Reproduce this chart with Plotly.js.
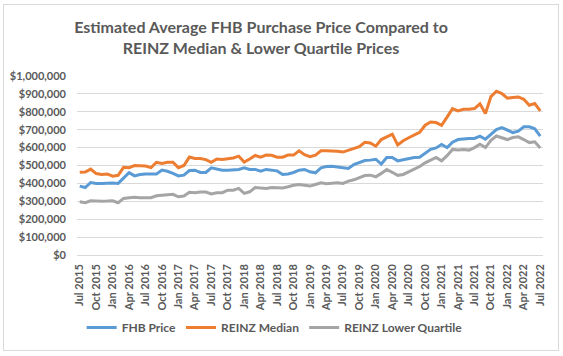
<!DOCTYPE html>
<html>
<head>
<meta charset="utf-8">
<script src="https://cdn.plot.ly/plotly-3.0.1.min.js"></script>
<style>
  html, body { margin: 0; padding: 0; background: #ffffff; }
  #chart { position: absolute; left: 0; top: 0; width: 563px; height: 356px; }
  #frame { position: absolute; left: 3px; top: 4px; width: 554px; height: 345px;
           border: 1px solid #d9d9d9; pointer-events: none; }
</style>
</head>
<body>
<div id="chart"></div>
<div id="frame"></div>
<script>
const months = [
  "Jul 2015","Aug 2015","Sep 2015","Oct 2015","Nov 2015","Dec 2015",
  "Jan 2016","Feb 2016","Mar 2016","Apr 2016","May 2016","Jun 2016","Jul 2016","Aug 2016","Sep 2016","Oct 2016","Nov 2016","Dec 2016",
  "Jan 2017","Feb 2017","Mar 2017","Apr 2017","May 2017","Jun 2017","Jul 2017","Aug 2017","Sep 2017","Oct 2017","Nov 2017","Dec 2017",
  "Jan 2018","Feb 2018","Mar 2018","Apr 2018","May 2018","Jun 2018","Jul 2018","Aug 2018","Sep 2018","Oct 2018","Nov 2018","Dec 2018",
  "Jan 2019","Feb 2019","Mar 2019","Apr 2019","May 2019","Jun 2019","Jul 2019","Aug 2019","Sep 2019","Oct 2019","Nov 2019","Dec 2019",
  "Jan 2020","Feb 2020","Mar 2020","Apr 2020","May 2020","Jun 2020","Jul 2020","Aug 2020","Sep 2020","Oct 2020","Nov 2020","Dec 2020",
  "Jan 2021","Feb 2021","Mar 2021","Apr 2021","May 2021","Jun 2021","Jul 2021","Aug 2021","Sep 2021","Oct 2021","Nov 2021","Dec 2021",
  "Jan 2022","Feb 2022","Mar 2022","Apr 2022","May 2022","Jun 2022","Jul 2022"
];

const tickLabels = [
  "Jul 2015","Oct 2015","Jan 2016","Apr 2016","Jul 2016","Oct 2016","Jan 2017","Apr 2017",
  "Jul 2017","Oct 2017","Jan 2018","Apr 2018","Jul 2018","Oct 2018","Jan 2019","Apr 2019",
  "Jul 2019","Oct 2019","Jan 2020","Apr 2020","Jul 2020","Oct 2020","Jan 2021","Apr 2021",
  "Jul 2021","Oct 2021","Jan 2022","Apr 2022","Jul 2022"
];

const fhbPrice = [
  385000,377000,405000,400000,400000,402000,402000,400000,430000,460000,
  442000,450000,452000,452000,452000,474000,468000,456000,442000,446000,
  472000,474000,461000,461000,487000,480000,474000,474000,478000,478000,
  487000,478000,478000,468000,478000,474000,470000,450000,453000,461000,
  474000,478000,465000,459000,487000,494000,496000,492000,488000,483000,
  505000,518000,528000,530000,535000,508000,545000,545000,526000,532000,
  538000,545000,546000,570000,590000,598000,617000,600000,630000,645000,
  650000,651000,651000,664000,647000,675000,701000,712000,700000,684000,
  692000,716000,716000,705000,664000
];

const reinzMedian = [
  462000,463000,480000,455000,450000,453000,440000,445000,490000,488000,
  500000,498000,497000,488000,518000,512000,518000,518000,488000,500000,
  547000,539000,539000,533000,518000,536000,533000,538000,542000,552000,
  519000,536000,556000,547000,558000,557000,546000,546000,558000,558000,
  582000,560000,549000,558000,582000,582000,582000,580000,575000,585000,
  595000,605000,630000,626000,608000,645000,660000,675000,615000,638000,
  655000,670000,685000,725000,743000,740000,725000,770000,818000,805000,
  814000,814000,818000,845000,790000,885000,915000,902000,876000,880000,
  883000,870000,837000,846000,805000
];

const reinzLowerQuartile = [
  297000,292000,303000,300000,300000,301000,303000,292000,316000,320000,
  323000,320000,320000,320000,331000,335000,337000,339000,325000,329000,
  350000,348000,352000,352000,341000,348000,348000,362000,362000,372000,
  344000,353000,377000,374000,372000,377000,374000,374000,381000,390000,
  394000,390000,385000,394000,403000,398000,400000,403000,400000,413000,
  420000,433000,444000,446000,437000,456000,478000,462000,445000,450000,
  465000,480000,494000,515000,532000,545000,526000,555000,590000,586000,
  590000,586000,600000,619000,600000,641000,665000,654000,645000,656000,
  660000,645000,628000,632000,598000
];

const FONT = "Lato, 'Liberation Sans', sans-serif";
const GREY_TEXT = "#595959";

const traces = [
  { name: "FHB Price", x: months, y: fhbPrice, type: "scatter", mode: "lines",
    line: { color: "#5B9BD5", width: 3 } },
  { name: "REINZ Median", x: months, y: reinzMedian, type: "scatter", mode: "lines",
    line: { color: "#ED7D31", width: 3 } },
  { name: "REINZ Lower Quartile", x: months, y: reinzLowerQuartile, type: "scatter", mode: "lines",
    line: { color: "#A5A5A5", width: 3 } }
];

const layout = {
  width: 563, height: 356,
  margin: { l: 77, r: 20, t: 76, b: 101, pad: 0 },
  paper_bgcolor: "#ffffff", plot_bgcolor: "#ffffff",
  font: { family: FONT, color: GREY_TEXT },
  title: {
    text: "Estimated Average FHB Purchase Price Compared to<br>REINZ Median & Lower Quartile Prices",
    font: { family: FONT, size: 16, color: GREY_TEXT, weight: "bold" },
    xref: "container", yref: "container",
    x: 261 / 563, xanchor: "center",
    y: 1 - 33 / 356, yanchor: "top"
  },
  xaxis: {
    type: "category",
    categoryorder: "array", categoryarray: months,
    range: [-0.5, months.length - 0.5],
    tickmode: "array", tickvals: tickLabels, ticktext: tickLabels,
    tickangle: -90,
    tickfont: { family: FONT, size: 11, color: GREY_TEXT, weight: "bold" },
    showgrid: false, zeroline: false, showline: false, ticks: "",
    ticklabelstandoff: 6
  },
  yaxis: {
    range: [0, 1000000],
    dtick: 100000, tick0: 0,
    tickprefix: "$", tickformat: ",d",
    tickfont: { family: FONT, size: 11, color: GREY_TEXT, weight: "bold" },
    showgrid: true, gridcolor: "#d9d9d9", gridwidth: 1,
    zeroline: true, zerolinecolor: "#d9d9d9", zerolinewidth: 1,
    showline: false, ticks: "",
    ticklabelstandoff: 10
  },
  showlegend: true,
  legend: {
    orientation: "h",
    x: 0.01, xanchor: "left",
    y: -0.405, yanchor: "middle",
    font: { family: FONT, size: 12, color: GREY_TEXT, weight: "bold" },
    itemwidth: 30,
    bgcolor: "rgba(0,0,0,0)"
  }
};

Plotly.newPlot("chart", traces, layout, { staticPlot: true, displayModeBar: false });
</script>
</body>
</html>
